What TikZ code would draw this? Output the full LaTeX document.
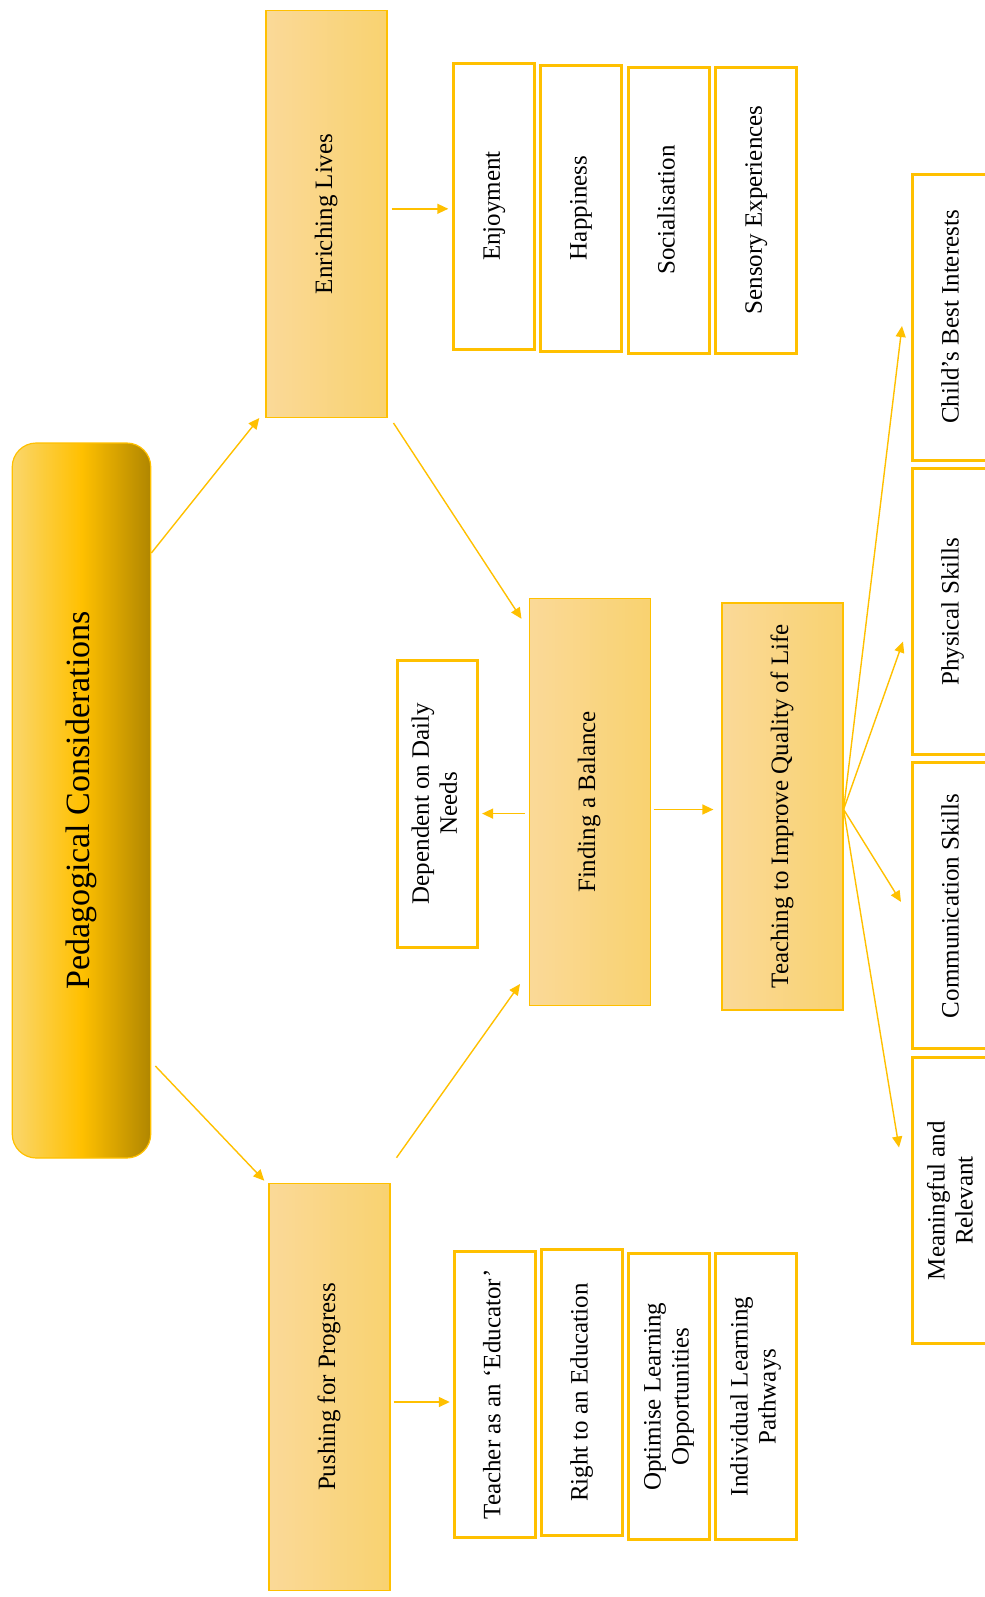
\documentclass[tikz,border=0pt]{standalone}
\usepackage{fontspec}
\setmainfont{Liberation Serif}
\usetikzlibrary{arrows.meta}

\definecolor{gold}{RGB}{255,192,0}
\definecolor{goldlight}{RGB}{250,217,152}
\definecolor{goldmid}{RGB}{249,210,112}
\definecolor{titlelight}{RGB}{250,214,108}
\definecolor{titledark}{RGB}{176,134,0}

\newcommand{\vtext}[1]{\rotatebox{90}{\begin{tabular}{@{}c@{}}#1\end{tabular}}}

\tikzset{
  topic/.style={draw=gold, line width=0.6pt, left color=goldlight, right color=goldmid,
    minimum width=60.5pt, minimum height=203.5pt, inner sep=0pt, font=\fontsize{12.5}{14}\selectfont},
  leaf/.style={draw=gold, line width=1.5pt, fill=white,
    minimum width=40.5pt, minimum height=143pt, inner sep=0pt, font=\fontsize{12.5}{14}\selectfont},
  conn/.style={draw=gold, line width=0.7pt, -{Triangle[length=5.5pt,width=5pt]}}
}

\begin{document}
\begin{tikzpicture}[x=0.5pt, y=-0.5pt]
\useasboundingbox (0,0) rectangle (985,1597);

% Main box
\node[draw=gold, line width=0.6pt, rounded corners=12pt, left color=titlelight, right color=titledark, middle color=gold,
  minimum width=69.25pt, minimum height=357.5pt, inner sep=0pt, font=\fontsize{17}{20}\selectfont]
  (main) at (81.5,800.5) {\vtext{Pedagogical Considerations}};

% The two branches and the balance
\node[topic] (enrich) at (326.4,213.9) {\vtext{Enriching Lives}};
\node[topic] (push) at (329.4,1386.8) {\vtext{Pushing for Progress}};
\node[topic] (find) at (589.6,801.9) {\vtext{Finding a Balance}};
\node[topic] (teach) at (782.5,806.4) {\vtext{Teaching to Improve Quality of Life}};
\node[leaf, minimum width=40.3pt, minimum height=143.5pt] (dep) at (437.3,803.5) {\vtext{Dependent on Daily\\Needs}};

% Leaves of each branch
\foreach \name/\x/\y/\txt in {enjoy/494.3/206/{Enjoyment}, happy/580.9/208/{Happiness},
    social/669/210/{Socialisation}, sensory/756.3/210/{Sensory Experiences},
    teacher/494.8/1394.5/{Teacher as an ‘Educator’}, right/581.9/1392.5/{Right to an Education},
    optim/669/1396.6/{Optimise Learning\\Opportunities}, indiv/756/1396.6/{Individual Learning\\Pathways},
    child/953/317/{Child’s Best Interests}, phys/953/611.8/{Physical Skills},
    comm/953/905.9/{Communication Skills}, mean/953/1200.5/{Meaningful and\\Relevant}}
  \node[leaf] (\name) at (\x,\y) {\vtext{\txt}};

% Arrows from the main box
\draw[conn] ([yshift=123.75pt]main.east) -- ([xshift=-3pt]enrich.south west);
\draw[conn] ([xshift=2pt,yshift=-132.75pt]main.east) -- ([xshift=-2pt,yshift=1pt]push.north west);

% Both branches lead to the balance
\draw[conn] ([xshift=3pt,yshift=-2.5pt]enrich.south east) -- ([xshift=-3.5pt,yshift=-10.5pt]find.north west);
\draw[conn] ([xshift=3pt,yshift=12.5pt]push.north east) -- ([xshift=-4.25pt,yshift=11pt]find.south west);

% Branches to their leaves
\draw[conn] ([xshift=2pt,yshift=2.55pt]enrich.east) -- ([xshift=-2pt,yshift=-1.4pt]enjoy.west);
\draw[conn] ([xshift=1.5pt,yshift=-7.6pt]push.east) -- ([xshift=-1.5pt,yshift=-3.75pt]teacher.west);

% Balance to either side
\draw[conn] ([xshift=-1.75pt,yshift=-5.85pt]find.west) -- ([xshift=1.5pt,yshift=-5.05pt]dep.east);
\draw[conn] ([xshift=1.5pt,yshift=-3.8pt]find.east) -- ([xshift=-4pt,yshift=-1.55pt]teach.west);

% Quality of life fans out
\foreach \n/\dx/\dy in {child/-4.5/-4.5, phys/-4/-14.85, comm/-5/2, mean/-6/26.5}
  \draw[conn] ([yshift=-1.5pt]teach.east) -- ([xshift=\dx pt,yshift=\dy pt]\n.west);

\end{tikzpicture}
\end{document}
